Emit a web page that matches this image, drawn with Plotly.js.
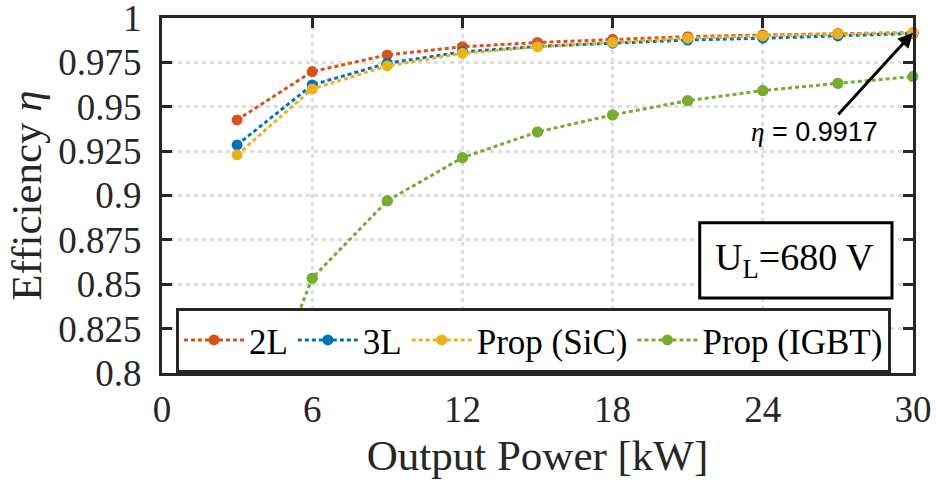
<!DOCTYPE html>
<html>
<head>
<meta charset="utf-8">
<script src="https://cdn.plot.ly/plotly-3.0.1.min.js"></script>
<style>html,body{margin:0;padding:0;background:#fff;}#chart{width:936px;height:485px;}</style>
</head>
<body>
<div id="chart"></div>
<script>
const power = [3, 6, 9, 12, 15, 18, 21, 24, 27, 30];
const eff2L = [0.9426, 0.9698, 0.9792, 0.9838, 0.9862, 0.9880, 0.9895, 0.9904, 0.9913, 0.9918];
const eff3L = [0.9285, 0.9623, 0.9745, 0.9809, 0.9840, 0.9858, 0.9876, 0.9886, 0.9899, 0.9913];
const effSiC = [0.9229, 0.9600, 0.9730, 0.9801, 0.9838, 0.9863, 0.9886, 0.9899, 0.9910, 0.9917];
const effIGBT = [0.745, 0.8534, 0.8970, 0.9213, 0.9358, 0.9454, 0.9534, 0.9591, 0.9632, 0.9670];
const seriesNames = ['2L', '3L', 'Prop (SiC)', 'Prop (IGBT)'];
const xTickVals = [0, 6, 12, 18, 24, 30];
const xTickText = ['0', '6', '12', '18', '24', '30'];
const yTickVals = [0.8, 0.825, 0.85, 0.875, 0.9, 0.925, 0.95, 0.975, 1];
const yTickText = ['0.8', '0.825', '0.85', '0.875', '0.9', '0.925', '0.95', '0.975', '1'];
const peakLabel = '0.9917';
const peakPower = 30, peakEff = 0.9917;

const colors = ['#D95319', '#0072BD', '#EDB120', '#77AC30'];
const serif = 'Liberation Serif, Times New Roman, serif';
const yMin = 0.8, yMax = 1;

function tr(y, i, clip) {
  return {
    x: power, y: y, name: seriesNames[i], type: 'scatter', mode: 'lines+markers',
    line: {color: colors[i], width: 3, dash: '4px,3px'},
    marker: {color: colors[i], size: 11, line: {width: 0}},
    cliponaxis: clip
  };
}
const visX = power.filter((p, k) => effIGBT[k] >= yMin);
const visY = effIGBT.filter(v => v >= yMin);

const data = [
  tr(eff2L, 0, false),
  tr(eff3L, 1, false),
  tr(effSiC, 2, false),
  tr(effIGBT, 3, true),
  {x: visX, y: visY, type: 'scatter', mode: 'markers', showlegend: false, cliponaxis: false,
   marker: {color: colors[3], size: 11, line: {width: 0}}, hoverinfo: 'skip'}
];
const axisCommon = {
  showline: true, mirror: 'allticks', linecolor: '#262626', linewidth: 3,
  ticks: 'inside', ticklen: 10, tickwidth: 3, tickcolor: '#262626',
  showgrid: true, gridcolor: '#dedede', gridwidth: 3, griddash: '4px,4px',
  zeroline: false, tickfont: {family: serif, size: 37, color: '#262626'},
  tickmode: 'array', ticklabeloverflow: 'allow'
};
const layout = {
  width: 936, height: 485,
  margin: {l: 162, r: 23, t: 18, b: 112},
  paper_bgcolor: '#fff', plot_bgcolor: '#fff',
  font: {family: serif, color: '#262626'},
  xaxis: Object.assign({}, axisCommon, {
    range: [0, 30], tickvals: xTickVals, ticktext: xTickText, ticklabelstandoff: 2,
    title: {text: 'Output Power [kW]', font: {family: serif, size: 43, color: '#262626'}, standoff: 11}
  }),
  yaxis: Object.assign({}, axisCommon, {
    range: [yMin, yMax], tickvals: yTickVals, ticktext: yTickText, ticklabelstandoff: 10,
    title: {text: 'Efficiency <i>η</i>', font: {family: serif, size: 43, color: '#262626'}, standoff: 4}
  }),
  legend: {
    orientation: 'h', x: 0.0186, y: 0.184, xanchor: 'left', yanchor: 'top',
    bgcolor: '#fff', bordercolor: '#262626', borderwidth: 3,
    font: {family: serif, size: 35, color: '#000'}, itemwidth: 60
  },
  shapes: [
    {type: 'rect', xref: 'paper', yref: 'paper', x0: 0.716, x1: 0.972, y0: 0.211, y1: 0.423,
     line: {color: '#000', width: 3}, fillcolor: '#fff', layer: 'above'}
  ],
  annotations: [
    {xref: 'paper', yref: 'paper', x: 0.842, y: 0.317, xanchor: 'center', yanchor: 'middle',
     text: 'U<sub>L</sub>=680 V', showarrow: false, font: {family: serif, size: 38, color: '#000'}},
    {x: peakPower, y: peakEff, xref: 'x', yref: 'y', axref: 'x', ayref: 'y', ax: 26.96, ay: 0.9448,
     text: '', showarrow: true, arrowhead: 2, arrowsize: 1, arrowwidth: 3, arrowcolor: '#000', standoff: 0},
    {x: 26.05, y: 0.936, xref: 'x', yref: 'y', showarrow: false, xanchor: 'center', yanchor: 'middle',
     text: '<span style="font-family:Liberation Serif"><i>η</i></span> = ' + peakLabel,
     font: {family: 'Liberation Sans, Arial, sans-serif', size: 27, color: '#000'}}
  ]
};
Plotly.newPlot('chart', data, layout, {displayModeBar: false, staticPlot: true});
</script>
</body>
</html>
